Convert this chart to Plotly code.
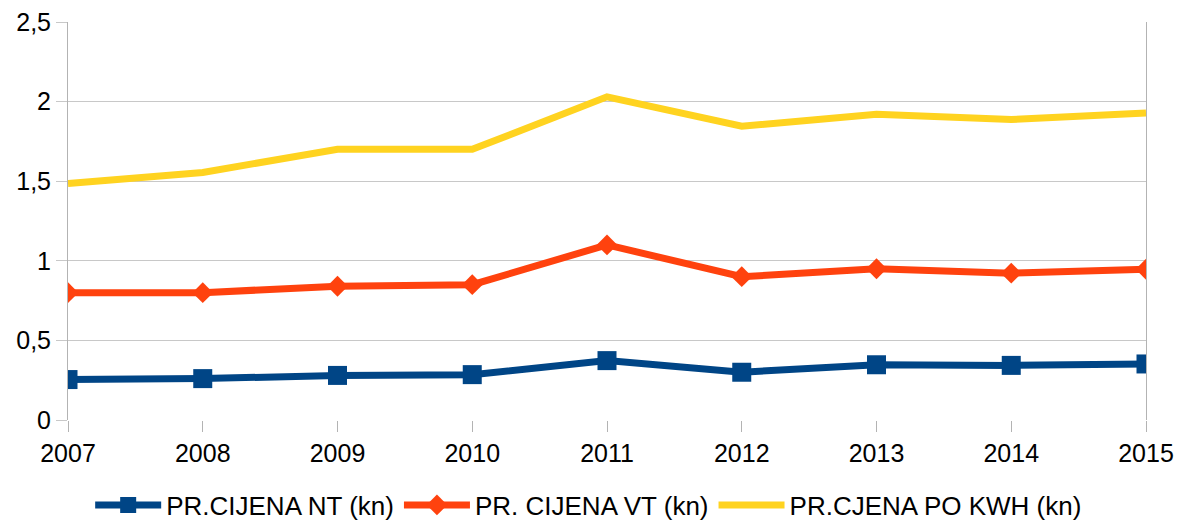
import plotly.graph_objects as go

years = [2007, 2008, 2009, 2010, 2011, 2012, 2013, 2014, 2015]
nt = [0.254, 0.26, 0.28, 0.285, 0.373, 0.30, 0.347, 0.343, 0.352]
vt = [0.80, 0.80, 0.84, 0.85, 1.10, 0.90, 0.95, 0.922, 0.947]
kwh = [1.486, 1.555, 1.70, 1.70, 2.03, 1.845, 1.92, 1.887, 1.929]

names = ["PR.CIJENA NT (kn)", "PR. CIJENA VT (kn)", "PR.CJENA PO KWH (kn)"]
ytick_vals = [0, 0.5, 1, 1.5, 2, 2.5]
ytick_text = ["0", "0,5", "1", "1,5", "2", "2,5"]

fig = go.Figure()
fig.add_trace(go.Scatter(x=years, y=nt, name=names[0], mode="lines+markers",
                         line=dict(color="#004586", width=7),
                         marker=dict(symbol="square", size=19, color="#004586")))
fig.add_trace(go.Scatter(x=years, y=vt, name=names[1], mode="lines+markers",
                         line=dict(color="#ff420e", width=7),
                         marker=dict(symbol="diamond", size=16, color="#ff420e")))
fig.add_trace(go.Scatter(x=years, y=kwh, name=names[2], mode="lines",
                         line=dict(color="#ffd320", width=7)))

fig.update_layout(
    width=1178, height=520,
    margin=dict(l=68, r=32, t=22, b=100, autoexpand=False),
    paper_bgcolor="white", plot_bgcolor="white",
    font=dict(family="Liberation Sans, Arial, sans-serif", size=25, color="black"),
    xaxis=dict(range=[2007, 2015], tickvals=years, ticktext=[str(y) for y in years],
               showgrid=False, zeroline=False, showline=False, automargin=False,
               ticks="outside", ticklen=11, tickcolor="#b3b3b3", tickwidth=1,
               ticklabeloverflow="allow", tickfont=dict(size=25)),
    yaxis=dict(range=[0, 2.5], tickvals=ytick_vals, ticktext=ytick_text,
               showgrid=True, gridcolor="#c8c8c8", gridwidth=1, zeroline=False,
               showline=True, mirror=True, linecolor="#b3b3b3", linewidth=1,
               automargin=False, ticklabeloverflow="allow",
               ticks="outside", ticklen=11, tickcolor="#c8c8c8",
               tickfont=dict(size=25)),
    legend=dict(orientation="h", x=0.483, xanchor="center",
                y=-0.2136, yanchor="middle", font=dict(size=26),
                itemwidth=66, bgcolor="rgba(0,0,0,0)"),
    showlegend=True,
)

fig.write_html(
    "out.html",
    config={"displayModeBar": False},
    post_script="document.body.style.margin='0';document.body.style.overflow='hidden';",
)
